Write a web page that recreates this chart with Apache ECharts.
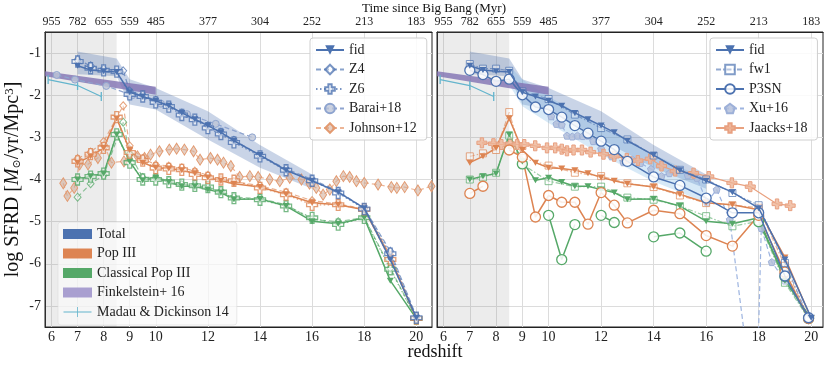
<!DOCTYPE html>
<html><head><meta charset="utf-8">
<script src="https://cdn.jsdelivr.net/npm/echarts@6/dist/echarts.min.js"></script>
<style>html,body{margin:0;padding:0;background:#fff}#c{width:831px;height:367px}</style>
</head><body><div id="c"></div>
<script>
// ---------- ticks ----------
const zTicks=[6,7,8,9,10,12,14,16,18,20];
const timeLabels=['955','782','655','559','485','377','304','252','213','183'];
const yTicks=[-7,-6,-5,-4,-3,-2,-1];

// ---------- fiducial (both panels) ----------
const zFid=[7,7.5,8,8.5,9,9.5,10,10.5,11,11.5,12,12.5,13,14,15,16,17,18,19,20];
const fidTot=[-1.3,-1.4,-1.43,-1.45,-1.93,-2.03,-2.13,-2.25,-2.42,-2.57,-2.72,-2.88,-3.08,-3.42,-3.78,-4.03,-4.3,-4.68,-5.9,-7.28];
const fidP3=[-3.6,-3.45,-3.25,-2.55,-3.3,-3.6,-3.72,-3.74,-3.78,-3.85,-3.95,-4.03,-4.1,-4.18,-4.35,-4.55,-4.6,-4.72,-5.85,-7.3];
const fidCl=[-4.0,-3.92,-3.86,-2.93,-3.57,-4.02,-3.96,-4.06,-4.16,-4.16,-4.24,-4.31,-4.47,-4.46,-4.63,-4.99,-5.05,-4.91,-6.4,-7.3];

// ---------- Z4 ----------
const zZ4=[7,7.5,8,8.75,9,9.5,10,10.5,11,11.5,12,12.5,13,14,15,16,17,18,19,20];
const z4Tot=[-1.16,-1.3,-1.38,-1.42,-1.9,-2.0,-2.12,-2.25,-2.42,-2.55,-2.72,-2.88,-3.07,-3.42,-3.75,-4.0,-4.28,-4.68,-5.7,-7.25];
const z4P3=[-3.5,-3.35,-3.1,-2.25,-3.2,-3.5,-3.65,-3.68,-3.72,-3.8,-3.9,-4.0,-4.05,-4.15,-4.3,-4.5,-4.58,-4.7,-5.8,-7.3];
const z4Cl=[-4.42,-4.1,-3.9,-2.64,-3.4,-3.95,-3.95,-4.03,-4.12,-4.14,-4.2,-4.28,-4.42,-4.45,-4.6,-4.95,-5.0,-4.9,-6.1,-7.3];

// ---------- Z6 ----------
const zZ6=[7,7.5,8,8.5,9,9.5,10,10.5,11,11.5,12,12.5,13,14,15,16,17,18,19,20];
const z6Tot=[-1.2,-1.36,-1.41,-1.44,-1.98,-2.03,-2.17,-2.27,-2.47,-2.58,-2.78,-2.92,-3.12,-3.45,-3.78,-4.03,-4.32,-4.7,-5.76,-7.28];
const z6P3=[-3.57,-3.4,-3.25,-2.52,-3.36,-3.55,-3.73,-3.75,-3.77,-3.88,-3.96,-4.0,-4.03,-4.2,-4.36,-4.6,-4.6,-4.71,-5.9,-7.3];
const z6Cl=[-4.0,-3.93,-3.86,-2.93,-3.6,-4.0,-4.0,-4.06,-4.12,-4.15,-4.18,-4.3,-4.44,-4.48,-4.63,-4.91,-5.07,-4.91,-6.13,-7.3];

// ---------- fw1 ----------
const zFw1=[7,7.5,8,8.5,9,10,11,12,13,14,15,16,17,18,19,19.9];
const fw1Tot=[-1.26,-1.37,-1.37,-1.42,-1.91,-2.09,-2.46,-2.78,-3.05,-3.43,-3.77,-4.0,-4.32,-4.61,-5.98,-7.28];
const fw1P3=[-3.45,-3.38,-3.3,-2.4,-3.49,-3.67,-3.84,-3.92,-4.09,-4.18,-4.38,-4.56,-4.61,-4.67,-6.05,-7.3];
const fw1Cl=[-4.0,-3.95,-3.84,-2.96,-3.64,-4.04,-4.17,-4.17,-4.43,-4.48,-4.63,-4.87,-5.11,-4.99,-6.45,-7.3];

// ---------- P3SN ----------
const zSN=[7,7.5,8,8.5,9,9.5,10,10.5,11,11.5,12,12.5,13,14,15,16,17,18,19,19.9];
const snTot=[-1.41,-1.51,-1.67,-1.62,-1.99,-2.28,-2.34,-2.52,-2.72,-2.9,-3.09,-3.29,-3.57,-3.94,-4.14,-4.44,-4.79,-4.79,-6.29,-7.28];
const snP3=[-4.33,-4.16,null,-3.3,-3.47,-4.89,-4.38,-4.54,-4.54,-5.06,-4.31,-4.61,-5.03,-4.73,-4.81,-5.33,-5.58,-4.85,-6.2,-7.3];
const snCl=[null,null,null,null,-3.63,null,-4.85,-5.9,-5.07,null,-4.85,-5.02,null,-5.36,-5.27,-5.7,null,-5.0,-6.3,-7.3];

// ---------- literature ----------
const zBarai=[6.2,6.9,8.1,9.1,10.2,11.2,12.3,13.7];
const barai=[-1.52,-1.63,-1.78,-2.0,-2.2,-2.45,-2.68,-3.0];
const zJohn=[6.45,6.61,6.87,7.08,7.4,7.78,8.04,8.3,8.78,9.0,9.3,9.57,9.8,10.14,10.52,10.8,11.1,11.45,11.7,12.1,12.37,12.6,12.88,13.22,13.61,13.93,14.37,14.76,15.14,15.59,15.9,16.16,16.42,16.68,16.93,17.2,17.44,17.7,18.0,18.53,19.04,19.25,19.55,20.06,20.58];
const john=[-4.09,-4.39,-4.2,-3.64,-3.64,-3.49,-3.21,-3.6,-3.57,-3.4,-3.45,-3.49,-3.41,-3.33,-3.29,-3.27,-3.29,-3.33,-3.53,-3.49,-3.53,-3.6,-3.68,-3.94,-3.92,-3.94,-4.0,-4.04,-3.96,-4.0,-4.1,-4.2,-4.36,-4.24,-4.04,-3.92,-3.94,-4.04,-4.08,-4.12,-4.18,-4.2,-4.18,-4.26,-4.16];
const zXu=[10.1,10.3,10.5,10.7,10.9,11.1,11.3,11.5,11.7,12.0,12.4,12.85,13.2,13.5,13.9,14.3,14.6,14.95,15.3,15.65,16.03,16.4,16.9,17.9,18.1,18.5,19.0,19.9];
const xu=[-2.5,-2.68,-2.7,-2.96,-2.98,-2.96,-2.97,-2.96,-3.09,-3.27,-3.45,-3.59,-3.53,-3.61,-3.75,-3.92,-3.85,-3.77,-3.9,-3.96,-4.54,-4.24,-4.95,-9.85,-5.15,-5.96,-6.4,-7.28];
const zJaacks=[7.46,7.9,8.2,8.54,8.8,9.07,9.49,9.94,10.25,10.5,10.7,10.95,11.27,11.6,12.09,12.5,12.98,13.4,13.87,14.3,14.82,15.52,16.1,16.98,17.68,18.7,19.2];
const jaacks=[-3.13,-3.15,-3.17,-3.15,-3.17,-3.17,-3.2,-3.25,-3.25,-3.28,-3.32,-3.3,-3.3,-3.35,-3.4,-3.45,-3.5,-3.55,-3.51,-3.68,-3.8,-3.85,-3.93,-4.08,-4.17,-4.58,-4.62];
const zMD=[5.87,7.0,7.91];
const md=[-1.63,-1.77,-2.03];
const zFink=[5.75,10];
const finkHi=[-1.43,-1.8];
const finkLo=[-1.55,-1.99];
const zBand=[7,8.5,9,10,12,14,16];
const bandHi=[-0.96,-1.13,-1.62,-1.83,-2.38,-3.18,-3.88];
const bandLo=[-1.5,-1.55,-2.22,-2.34,-3.05,-3.72,-4.22];
const zLight=[8.5,9,10,12,14,16];
const lightHi=[-1.3,-1.63,-2.03,-2.74,-3.4,-4.0];
const lightLo=[-1.75,-2.26,-2.66,-3.41,-4.05,-4.55];
const zShade=[5.75,8.5];
const yShade=[-7.5,-0.5];

// ---------- styling ----------
const SERIF="'Liberation Serif','DejaVu Serif',serif";
const C={blue:'#4c72b0',orange:'#dd8452',green:'#55a868',purple:'#8172b3',cyan:'#64b5cd'};
const TRI_DOWN='path://M0,0 L10,0 L5,9 Z';
const PLUS='path://M3.3,0 L6.7,0 L6.7,3.3 L10,3.3 L10,6.7 L6.7,6.7 L6.7,10 L3.3,10 L3.3,6.7 L0,6.7 L0,3.3 L3.3,3.3 Z';
const THIN_D='path://M5,0 L10,8 L5,16 L0,8 Z';
const PENT='path://M5,0 L10,3.6 L8.1,9.5 L1.9,9.5 L0,3.6 Z';
const VBAR='path://M0,0 L1,0 L1,10 L0,10 Z';

function ln(name, gi, zs, vs, st){
  return Object.assign({type:'line',name,xAxisIndex:gi*2,yAxisIndex:gi,
    data:zs.map((z,i)=>[z,vs[i]]),animation:false,clip:true,
    emphasis:{disabled:true},z:3},st);
}
const sFid=c=>({symbol:TRI_DOWN,symbolSize:[7,6],itemStyle:{color:c},lineStyle:{color:c,width:1.5}});
const sZ4=c=>({symbol:'diamond',symbolSize:[7,8],itemStyle:{color:'rgba(255,255,255,0.5)',borderColor:c,borderWidth:1,opacity:0.75},lineStyle:{color:c,width:1.2,type:[5,3],opacity:0.65}});
const sZ6=c=>({symbol:PLUS,symbolSize:11,itemStyle:{color:'rgba(255,255,255,0.6)',borderColor:c,borderWidth:1.3,opacity:0.8},lineStyle:{color:c,width:1.3,type:[1.5,2.5],opacity:0.75}});
const sFw1=c=>({symbol:'rect',symbolSize:7,itemStyle:{color:'rgba(255,255,255,0.5)',borderColor:c,borderWidth:1,opacity:0.7},lineStyle:{color:c,width:1.2,type:[5,2,1.5,2],opacity:0.6}});
const sSN=c=>({symbol:'circle',symbolSize:10,itemStyle:{color:'rgba(255,255,255,0.85)',borderColor:c,borderWidth:1.3},lineStyle:{color:c,width:1.5}});

function poly(name, gi, zs, hi, lo, fill, z){
  return {type:'custom',name,xAxisIndex:gi*2,yAxisIndex:gi,silent:true,animation:false,z:z,
    data:[[zs[0],lo[0]]],
    renderItem:(p,api)=>{
      const pts=[];
      zs.forEach((x,i)=>pts.push(api.coord([x,hi[i]])));
      for(let i=zs.length-1;i>=0;i--) pts.push(api.coord([zs[i],lo[i]]));
      return {type:'polygon',shape:{points:pts},style:{fill:fill}};
    }};
}

const series=[];
[0,1].forEach(g=>{
  series.push(poly('shade'+g,g,zShade,[yShade[1],yShade[1]],[yShade[0],yShade[0]],'rgba(120,120,120,0.14)',1));
  series.push(poly('band'+g,g,zBand,bandHi,bandLo,'rgba(76,114,176,0.3)',1));
});
series.push(poly('light',1,zLight,lightHi,lightLo,'rgba(110,175,225,0.28)',1));
[0,1].forEach(g=>{
  series.push(poly('Finkelstein+ 16',g,zFink,finkHi,finkLo,'rgba(129,114,179,0.8)',2));
  series.push(ln('Madau & Dickinson 14',g,zMD,md,{symbol:VBAR,symbolSize:[1.3,9],itemStyle:{color:C.cyan},lineStyle:{color:C.cyan,width:1.3}}));
});
// left panel
series.push(ln('Johnson+12',0,zJohn,john,{symbol:THIN_D,symbolSize:[7,11],itemStyle:{color:'rgba(205,170,150,0.55)',borderColor:'#e39a70',borderWidth:1},lineStyle:{color:'#e8a27c',width:1.2,type:[5,3],opacity:0.8},z:3}));
series.push(ln('Barai+18',0,zBarai,barai,{symbol:'circle',symbolSize:7,itemStyle:{color:'rgba(190,198,215,0.8)',borderColor:'#8ea4cf',borderWidth:1},lineStyle:{color:'#8ea4cf',width:1.2,type:[5,3]},z:3}));
series.push(ln('clZ4',0,zZ4,z4Cl,sZ4(C.green)));
series.push(ln('clZ6',0,zZ6,z6Cl,sZ6(C.green)));
series.push(ln('clFid',0,zFid,fidCl,sFid(C.green)));
series.push(ln('p3Z4',0,zZ4,z4P3,sZ4(C.orange)));
series.push(ln('p3Z6',0,zZ6,z6P3,sZ6(C.orange)));
series.push(ln('p3Fid',0,zFid,fidP3,sFid(C.orange)));
series.push(ln('Z4',0,zZ4,z4Tot,Object.assign(sZ4(C.blue),{z:4})));
series.push(ln('Z6',0,zZ6,z6Tot,Object.assign(sZ6(C.blue),{z:4})));
series.push(ln('fid',0,zFid,fidTot,Object.assign(sFid(C.blue),{z:5})));
// right panel
series.push(ln('Xu+16',1,zXu,xu,{symbol:PENT,symbolSize:7,itemStyle:{color:'rgba(180,192,218,0.85)',borderColor:'#9db0d8',borderWidth:1},lineStyle:{color:'#9db4e0',width:1.2,type:[5,3]},z:3}));
series.push(ln('Jaacks+18',1,zJaacks,jaacks,{symbol:PLUS,symbolSize:10,itemStyle:{color:'rgba(238,180,150,0.8)',borderColor:'#e8a080',borderWidth:1},lineStyle:{color:'#e9a17f',width:1.2},z:3}));
series.push(ln('clFw1',1,zFw1,fw1Cl,sFw1(C.green)));
series.push(ln('clSN',1,zSN,snCl,sSN(C.green)));
series.push(ln('clFidR',1,zFid,fidCl,sFid(C.green)));
series.push(ln('p3Fw1',1,zFw1,fw1P3,sFw1(C.orange)));
series.push(ln('p3SN',1,zSN,snP3,sSN(C.orange)));
series.push(ln('p3FidR',1,zFid,fidP3,sFid(C.orange)));
series.push(ln('fw1',1,zFw1,fw1Tot,Object.assign(sFw1(C.blue),{z:4})));
series.push(ln('P3SN',1,zSN,snTot,Object.assign(sSN(C.blue),{z:4})));
series.push(ln('fid',1,zFid,fidTot,Object.assign(sFid(C.blue),{z:5})));
// legend-only entries
['Total','Pop III','Classical Pop III'].forEach(n=>series.push({type:'line',name:n,data:[],xAxisIndex:0,yAxisIndex:0}));

function xAx(gi,min,max,top){
  return {type:'value',gridIndex:gi,min,max,position:top?'top':'bottom',
    axisLine:{show:true,onZero:false,lineStyle:{color:'#222'}},
    axisTick:{show:false,customValues:zTicks},
    axisLabel:{customValues:zTicks,fontFamily:SERIF,color:'#222',fontSize:top?12:14,margin:top?4:3,
      formatter:top?(v=>{let k=0;zTicks.forEach((t,i)=>{if(Math.abs(t-v)<1e-6)k=i;});return timeLabels[k];}):(v=>String(v))},
    splitLine:{show:!top,lineStyle:{color:'#dcdcdc',width:1}}};
}
function yAx(gi){
  return {type:'value',gridIndex:gi,min:-7.5,max:-0.5,
    axisLine:{show:true,lineStyle:{color:'#222'}},
    axisTick:{show:false,customValues:yTicks},
    axisLabel:{show:gi===0,customValues:yTicks,fontFamily:SERIF,color:'#222',fontSize:14,margin:4},
    splitLine:{show:true,lineStyle:{color:'#dcdcdc',width:1}},
    name:gi===0?'{a|log SFRD [}{b|M}{c|⊙}{a|/yr/Mpc}{d|3}{a|]}':'',
    nameLocation:'middle',nameGap:22,nameRotate:90,
    nameTextStyle:{fontFamily:SERIF,fontSize:20,color:'#111',rich:{
      a:{fontFamily:SERIF,fontSize:20,color:'#111'},
      b:{fontFamily:SERIF,fontSize:20,fontStyle:'italic',color:'#111'},
      c:{fontFamily:"'DejaVu Serif',serif",fontSize:11,color:'#111',verticalAlign:'bottom'},
      d:{fontFamily:SERIF,fontSize:13,color:'#111',verticalAlign:'top'}}}};
}
const legBase={orient:'vertical',itemGap:5.5,itemWidth:28,itemHeight:12,selectedMode:false,
  textStyle:{fontFamily:SERIF,fontSize:14,color:'#222'},padding:[5,10,5,5],
  borderColor:'#cfcfcf',borderWidth:1,borderRadius:3,backgroundColor:'rgba(255,255,255,0.85)'};

const option={
  animation:false,
  grid:[{left:45,top:32,width:387,height:295,show:true,borderColor:'#222',borderWidth:1,backgroundColor:'transparent'},
        {left:437,top:32,width:386,height:295,show:true,borderColor:'#222',borderWidth:1,backgroundColor:'transparent'}],
  xAxis:[xAx(0,5.75,20.6,false),xAx(0,5.75,20.6,true),xAx(1,5.75,20.45,false),xAx(1,5.75,20.45,true)],
  yAxis:[yAx(0),yAx(1)],
  legend:[
    Object.assign({},legBase,{left:310,top:38,data:['fid','Z4','Z6','Barai+18','Johnson+12']}),
    Object.assign({},legBase,{left:710,top:38,data:['fid','fw1','P3SN','Xu+16','Jaacks+18']}),
    Object.assign({},legBase,{left:58,top:222,itemHeight:10,itemWidth:29,itemGap:5.5,padding:[5,8,6,5],borderColor:'rgba(220,220,220,0.6)',backgroundColor:'rgba(250,250,250,0.75)',
      data:[{name:'Total',icon:'rect',itemStyle:{color:C.blue}},
            {name:'Pop III',icon:'rect',itemStyle:{color:C.orange}},
            {name:'Classical Pop III',icon:'rect',itemStyle:{color:C.green}},
            {name:'Finkelstein+ 16',icon:'rect',itemStyle:{color:'#a99fd0'}},
            {name:'Madau & Dickinson 14',icon:'path://M0,4.6 L28,4.6 L28,5.4 L0,5.4 Z M13.6,0 L14.4,0 L14.4,10 L13.6,10 Z',itemStyle:{color:C.cyan}}]})
  ],
  graphic:[
    {type:'text',x:434,y:2,style:{text:'Time since Big Bang (Myr)',font:'13px '+SERIF,fill:'#111',align:'center',verticalAlign:'top'}},
    {type:'text',x:435,y:343,style:{text:'redshift',font:'18px '+SERIF,fill:'#111',align:'center',verticalAlign:'top'}}
  ],
  series
};
const chart=echarts.init(document.getElementById('c'),null,{renderer:'canvas'});
chart.setOption(option);
</script></body></html>
